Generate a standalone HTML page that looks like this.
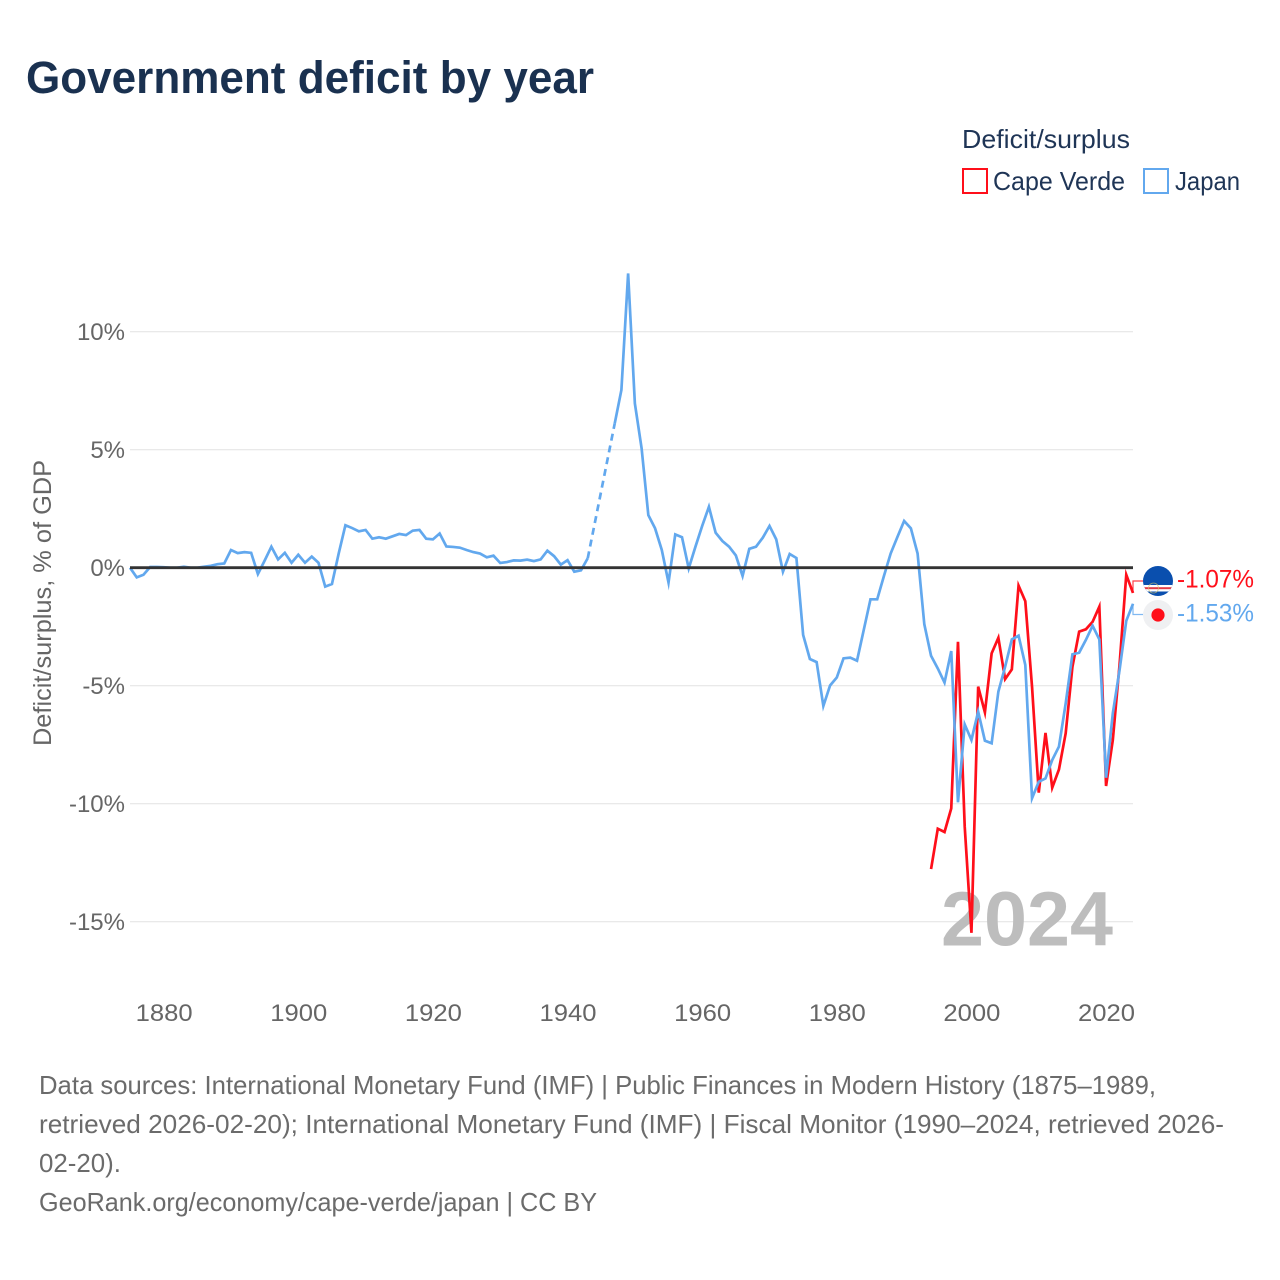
<!DOCTYPE html>
<html lang="en">
<head>
<meta charset="utf-8">
<title>Government deficit by year</title>
<style>
html,body{margin:0;padding:0;background:#fff;}
svg{display:block;font-family:"Liberation Sans",sans-serif;}
</style>
</head>
<body>
<svg id="chart" xmlns="http://www.w3.org/2000/svg" width="1280" height="1280" viewBox="0 0 1280 1280">
  <rect x="0" y="0" width="1280" height="1280" fill="#ffffff"/>
  <text x="26" y="93" font-size="45" font-weight="700" fill="#1a3150" textLength="568" lengthAdjust="spacingAndGlyphs">Government deficit by year</text>

  <g>
    <text x="962" y="148" font-size="26" fill="#1f3556" textLength="168" lengthAdjust="spacingAndGlyphs">Deficit/surplus</text>
    <rect x="963" y="169" width="24" height="24" fill="#fff" stroke="#ff0f1a" stroke-width="2"/>
    <text x="993" y="190" font-size="26" fill="#1f3556" textLength="132" lengthAdjust="spacingAndGlyphs">Cape Verde</text>
    <rect x="1144" y="169" width="24" height="24" fill="#fff" stroke="#62a8ee" stroke-width="2"/>
    <text x="1175" y="190" font-size="26" fill="#1f3556" textLength="65" lengthAdjust="spacingAndGlyphs">Japan</text>
  </g>

  <g id="grid"></g>
  <g id="yticks"></g>
  <g id="xticks"></g>
  <text transform="translate(51,603) rotate(-90)" text-anchor="middle" font-size="25" fill="#666666" textLength="286" lengthAdjust="spacingAndGlyphs">Deficit/surplus, % of GDP</text>

  <text id="year-label" x="941" y="945.5" font-size="77" font-weight="700" fill="#bdbdbd" textLength="172" lengthAdjust="spacingAndGlyphs">2024</text>

  <g id="series"></g>
  <line id="zero" x1="130" x2="1133" stroke="#333333" stroke-width="2.8"/>
  <g id="ends"></g>

  <g font-size="26" fill="#6b6b6b">
    <text x="39" y="1094" textLength="1117" lengthAdjust="spacingAndGlyphs">Data sources: International Monetary Fund (IMF) | Public Finances in Modern History (1875–1989,</text>
    <text x="39" y="1133" textLength="1185" lengthAdjust="spacingAndGlyphs">retrieved 2026-02-20); International Monetary Fund (IMF) | Fiscal Monitor (1990–2024, retrieved 2026-</text>
    <text x="39" y="1172" textLength="82" lengthAdjust="spacingAndGlyphs">02-20).</text>
    <text x="39" y="1211" textLength="558" lengthAdjust="spacingAndGlyphs">GeoRank.org/economy/cape-verde/japan | CC BY</text>
  </g>
</svg>
<script>
const yTickValues = [10, 5, 0, -5, -10, -15];
const xTickYears = [1880, 1900, 1920, 1940, 1960, 1980, 2000, 2020];
const japanStartYear = 1875;
const japanValues = [
  0,-0.41,-0.3,0.03,0.03,0.02,0,0,0.04,0,0,0.04,0.08,0.15,0.18,
  0.75,0.62,0.66,0.63,-0.27,0.3,0.89,0.35,0.63,0.21,0.55,0.21,0.47,0.21,-0.8,
  -0.69,0.6,1.8,1.68,1.54,1.6,1.23,1.29,1.23,1.33,1.43,1.38,1.57,1.6,1.23,
  1.2,1.45,0.9,0.88,0.85,0.75,0.66,0.6,0.44,0.51,0.2,0.24,0.31,0.3,0.34,
  0.28,0.35,0.72,0.49,0.13,0.32,-0.17,-0.11,0.4,null,null,null,6.1,7.53,12.47,
  6.96,5.06,2.23,1.67,0.75,-0.63,1.41,1.29,-0.03,0.89,1.77,2.58,1.48,1.13,0.89,
  0.52,-0.35,0.8,0.89,1.27,1.77,1.2,-0.17,0.58,0.41,-2.85,-3.87,-4.0,-5.86,-4.99,
  -4.65,-3.84,-3.81,-3.94,-2.64,-1.34,-1.34,-0.35,0.6,1.3,1.98,1.67,0.6,-2.4,-3.73,
  -4.27,-4.87,-3.53,-9.94,-6.64,-7.3,-6.1,-7.33,-7.44,-5.25,-4.2,-3.04,-2.88,-4.12,-9.77,
  -9.07,-8.93,-8.15,-7.58,-5.75,-3.67,-3.6,-3.06,-2.46,-3.04,-8.9,-6.17,-4.34,-2.25,-1.53
];
const capeVerdeStartYear = 1994;
const capeVerdeValues = [
  -12.77,-11.06,-11.2,-10.2,-3.14,-10.97,-15.47,-5.04,-6.13,-3.63,-2.97,-4.72,-4.31,-0.76,-1.42,
  -5.04,-9.53,-7.0,-9.32,-8.55,-7.02,-4.2,-2.71,-2.61,-2.29,-1.65,-9.25,-7.3,-4.12,-0.3,-1.07
];
const endLabels = ["-1.07%", "-1.53%"];

const NS = "http://www.w3.org/2000/svg";
const X0 = 130, X1 = 1133, YEAR0 = 1875, YEAR1 = 2024;
const Y_ZERO = 567.7, PX_PER_PCT = 23.6;
function xScale(year) { return X0 + (year - YEAR0) * (X1 - X0) / (YEAR1 - YEAR0); }
function yScale(v) { return Y_ZERO - v * PX_PER_PCT; }
function make(tag, attrs, parent) {
  const el = document.createElementNS(NS, tag);
  for (const k in attrs) el.setAttribute(k, attrs[k]);
  parent.appendChild(el);
  return el;
}

const grid = document.getElementById("grid");
const yticks = document.getElementById("yticks");
const xticks = document.getElementById("xticks");
const series = document.getElementById("series");
const ends = document.getElementById("ends");

yTickValues.forEach(function (v) {
  if (v !== 0) {
    const gl = make("line", {x1: X0, x2: X1, y1: yScale(v), y2: yScale(v), stroke: "#e6e6e6", "stroke-width": 1.2}, grid);
    
    
  }
  const t = make("text", {x: 125, y: yScale(v) + 8.5, "text-anchor": "end", "font-size": 24, fill: "#666666"}, yticks);
  t.textContent = v + "%";
  
  
});
xTickYears.forEach(function (yr) {
  const t = make("text", {x: xScale(yr) + 0.5, y: 1021, "text-anchor": "middle", "font-size": 24.5, fill: "#666666", textLength: 57, lengthAdjust: "spacingAndGlyphs"}, xticks);
  t.textContent = String(yr);
  
  
});
const zero = document.getElementById("zero");
zero.setAttribute("y1", yScale(0));
zero.setAttribute("y2", yScale(0));

function drawSeries(values, startYear, color, name) {
  let solid = "", dashed = "", last = null, open = false;
  values.forEach(function (v, i) {
    if (v === null) { open = false; return; }
    const px = xScale(startYear + i).toFixed(2), py = yScale(v).toFixed(2);
    if (last && !open) dashed += "M" + last[0] + " " + last[1] + "L" + px + " " + py;
    solid += (open ? "L" : "M") + px + " " + py;
    last = [px, py];
    open = true;
  });
  const line = make("path", {d: solid, fill: "none", stroke: color, "stroke-width": 2.7, "stroke-linejoin": "miter", "stroke-miterlimit": 6}, series);
  
  
  if (dashed) {
    const d = make("path", {d: dashed, fill: "none", stroke: color, "stroke-width": 2.7, "stroke-dasharray": "7 5"}, series);
    
    
  }
}
drawSeries(capeVerdeValues, capeVerdeStartYear, "#ff0f1a", "cape-verde");
drawSeries(japanValues, japanStartYear, "#62a8ee", "japan");

function connector(v, labelY, color, name) {
  const c = make("path", {d: "M" + X1 + " " + yScale(v) + "V" + labelY + "H1143", fill: "none", stroke: color, "stroke-width": 1.2, opacity: 0.8}, ends);
  
  
}
const capeLast = capeVerdeValues[capeVerdeValues.length - 1];
const japanLast = japanValues[japanValues.length - 1];
connector(capeLast, 581, "#ff0f1a", "cape-verde");
connector(japanLast, 614.5, "#62a8ee", "japan");

/* Cape Verde flag */
const defs = make("defs", {}, ends);
const clip = make("clipPath", {id: "cvclip"}, defs);
make("circle", {cx: 1158, cy: 581, r: 15}, clip);
const flagCV = make("g", {"clip-path": "url(#cvclip)"}, ends);


make("rect", {x: 1143, y: 566, width: 30, height: 30, fill: "#0a4fae"}, flagCV);
make("rect", {x: 1143, y: 585, width: 30, height: 6.5, fill: "#ffffff"}, flagCV);
make("rect", {x: 1143, y: 587.2, width: 30, height: 2, fill: "#e23a46"}, flagCV);
make("circle", {cx: 1153.5, cy: 588, r: 5, fill: "none", stroke: "#d9c46a", "stroke-width": 0.8, opacity: 0.7}, flagCV);

/* Japan flag */
const flagJP = make("g", {}, ends);


make("circle", {cx: 1158, cy: 615, r: 15, fill: "#eff0f2"}, flagJP);
make("circle", {cx: 1158, cy: 615, r: 6.6, fill: "#ff0f1a"}, flagJP);

const l1 = make("text", {x: 1177, y: 587.5, "font-size": 25, fill: "#ff0f1a", textLength: 77, lengthAdjust: "spacingAndGlyphs"}, ends);
l1.textContent = endLabels[0];


const l2 = make("text", {x: 1177, y: 621.5, "font-size": 25, fill: "#62a8ee", textLength: 77, lengthAdjust: "spacingAndGlyphs"}, ends);
l2.textContent = endLabels[1];


</script>
</body>
</html>
